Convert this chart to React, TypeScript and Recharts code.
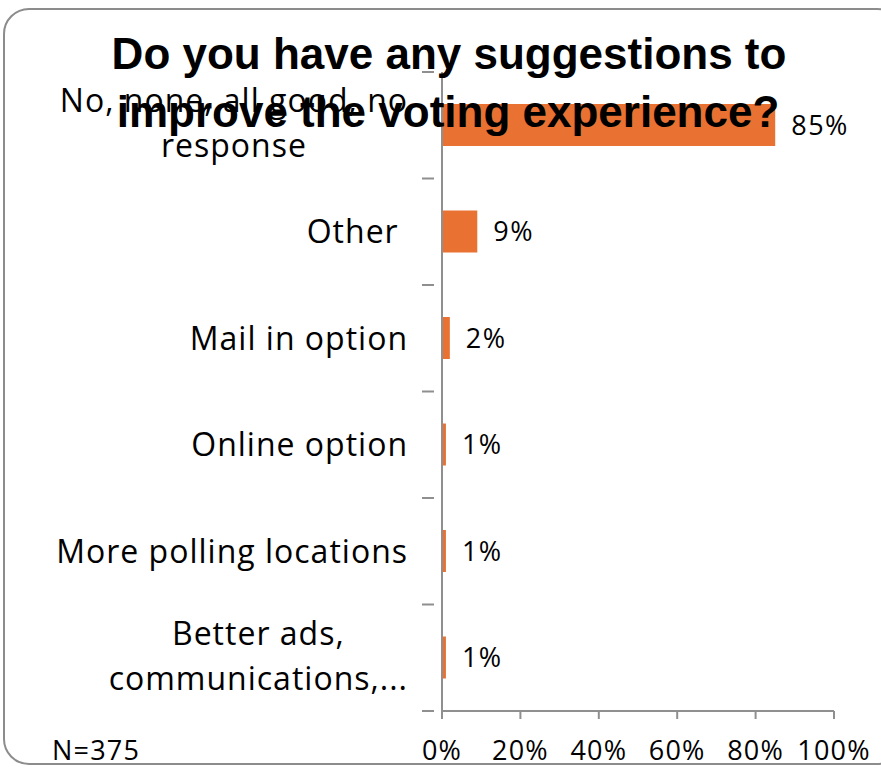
import React from "react";
import { Bar, BarChart, LabelList, XAxis, YAxis } from "recharts";

const categories = [
  "No, none, all good, no\nresponse",
  "Other ",
  "Mail in option",
  "Online option",
  "More polling locations",
  "Better ads,\ncommunications,...",
];
const shares = [85, 9, 2, 1, 1, 1];
const xTicks = [0, 20, 40, 60, 80, 100];

const data = categories.map((label, i) => ({ label, share: shares[i] }));

const W = 881;
const H = 769;
const TOP = 72;
const X_AXIS_H = 58;
const BAND = (H - TOP - X_AXIS_H) / categories.length;
const FONT = "'Open Sans', sans-serif";
const AXIS = "#8f8f8f";
const CAT_SIZE = 32;
const CAT_LS = 1;

function measure(text: string, size: number, ls: number) {
  const ctx = document.createElement("canvas").getContext("2d");
  if (!ctx) return text.length * (size * 0.55 + ls);
  ctx.font = `${size}px 'Open Sans'`;
  return ctx.measureText(text).width + text.length * ls;
}

function CategoryTick(props: any) {
  const { x, y, payload, index } = props;
  const lines = String(payload.value).split("\n");
  const right = x - 26;
  const lh = 45;
  let textEls;
  if (lines.length === 1) {
    textEls = (
      <text
        x={right}
        y={y}
        dy="0.36em"
        textAnchor="end"
        fontSize={CAT_SIZE}
        letterSpacing={CAT_LS}
        fill="#000"
        fontFamily={FONT}
        style={{ whiteSpace: "pre" }}
      >
        {lines[0]}
      </text>
    );
  } else {
    const maxW = Math.max(...lines.map((l) => measure(l, CAT_SIZE, CAT_LS)));
    const cx = right - maxW / 2;
    textEls = lines.map((l, i) => (
      <text
        key={i}
        x={cx}
        y={y - 2 + (i - (lines.length - 1) / 2) * lh}
        dy="0.36em"
        textAnchor="middle"
        fontSize={CAT_SIZE}
        letterSpacing={CAT_LS}
        fill="#000"
        fontFamily={FONT}
      >
        {l}
      </text>
    ));
  }
  return (
    <g>
      {textEls}
      <line x1={x - 12} x2={x} y1={y - BAND / 2} y2={y - BAND / 2} stroke={AXIS} strokeWidth={2} />
      {index === categories.length - 1 && (
        <line x1={x - 12} x2={x} y1={y + BAND / 2} y2={y + BAND / 2} stroke={AXIS} strokeWidth={2} />
      )}
    </g>
  );
}

export default function App() {
  return (
    <div style={{ position: "absolute", left: 0, top: 0, width: W, height: H, overflow: "hidden", background: "#fff" }}>
      <div
        style={{
          position: "absolute",
          left: 3,
          top: 8,
          width: 900,
          height: 757,
          border: `2px solid #8c8c8c`,
          borderRadius: 26,
          boxSizing: "border-box",
        }}
      />
      <div style={{ position: "absolute", left: 0, top: 0 }}>
        <BarChart
          width={W}
          height={H}
          data={data}
          layout="vertical"
          margin={{ top: TOP, right: 47, bottom: 0, left: 0 }}
          barCategoryGap={0}
        >
          <XAxis
            type="number"
            domain={[0, 100]}
            ticks={xTicks}
            tickFormatter={(v) => `${v}%`}
            height={X_AXIS_H}
            axisLine={{ stroke: AXIS, strokeWidth: 2 }}
            tickLine={{ stroke: AXIS, strokeWidth: 2 }}
            tickSize={8}
            tickMargin={22}
            tick={{ fill: "#000", fontSize: 27, fontFamily: FONT, letterSpacing: 1.2 }}
            interval={0}
          />
          <YAxis
            type="category"
            dataKey="label"
            width={442}
            axisLine={{ stroke: AXIS, strokeWidth: 2 }}
            tickLine={false}
            tick={<CategoryTick />}
            interval={0}
          />
          <Bar dataKey="share" fill="#E97132" barSize={42} isAnimationActive={false}>
            <LabelList
              dataKey="share"
              position="right"
              offset={16}
              formatter={(v: any) => `${v}%`}
              fill="#000"
              fontSize={27}
              letterSpacing={1.5}
              fontFamily={FONT}
            />
          </Bar>
        </BarChart>
      </div>
      <svg width={W} height={H} style={{ position: "absolute", left: 0, top: 0, pointerEvents: "none" }}>
        <text x={449} y={69} textAnchor="middle" fontSize={44} fontWeight={700} fontFamily="'Liberation Sans', Arial, sans-serif" fill="#000">
          Do you have any suggestions to
        </text>
        <text x={448} y={127} textAnchor="middle" fontSize={44} fontWeight={700} fontFamily="'Liberation Sans', Arial, sans-serif" fill="#000">
          improve the voting experience?
        </text>
        <text x={52} y={760} fontSize={27} letterSpacing={1.2} fontFamily={FONT} fill="#000">
          N=375
        </text>
      </svg>
    </div>
  );
}
